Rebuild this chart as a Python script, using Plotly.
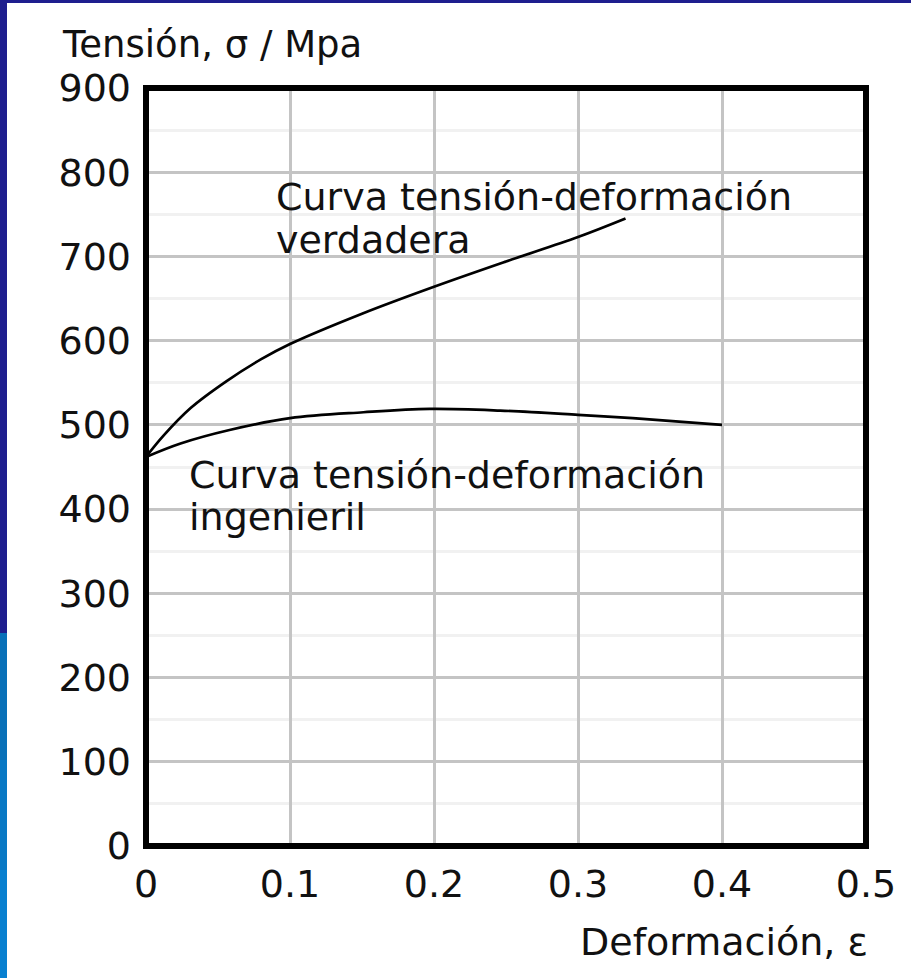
import plotly.graph_objects as go

# ---- data ----
true_strain = [0, 0.012, 0.031, 0.056, 0.08, 0.1, 0.15, 0.2, 0.25, 0.3, 0.333]
true_stress = [462, 487, 520, 552, 578, 596, 632, 664, 694, 723, 745]

eng_strain = [0, 0.024, 0.058, 0.1, 0.151, 0.197, 0.246, 0.3, 0.338, 0.4]
eng_stress = [462, 478, 494, 508, 515, 519, 517, 512, 508, 500]

x_ticks = [0, 0.1, 0.2, 0.3, 0.4, 0.5]
x_tick_text = ["0", "0.1", "0.2", "0.3", "0.4", "0.5"]
y_ticks = [0, 100, 200, 300, 400, 500, 600, 700, 800, 900]
y_tick_text = [str(v) for v in y_ticks]

y_title = "Tensión, σ / Mpa"
x_title = "Deformación, ε"
true_label = ["Curva tensión-deformación", "verdadera"]
eng_label = ["Curva tensión-deformación", "ingenieril"]

FONT = "DejaVu Sans"
TXT = "#111111"

W, H = 911, 978
ML, MR, MT, MB = 146, 45, 88, 132
PW, PH = W - ML - MR, H - MT - MB


def px(x):
    return (x - ML) / PW


def py(y):
    return (H - MB - y) / PH


fig = go.Figure()
fig.add_trace(go.Scatter(x=true_strain, y=true_stress, mode="lines",
                         line=dict(color="black", width=2.7, shape="spline", smoothing=1.0),
                         showlegend=False, hoverinfo="skip"))
fig.add_trace(go.Scatter(x=eng_strain, y=eng_stress, mode="lines",
                         line=dict(color="black", width=2.7, shape="spline", smoothing=1.0),
                         showlegend=False, hoverinfo="skip"))

shapes = [
    # frame
    dict(type="rect", xref="paper", yref="paper", x0=0, x1=1, y0=0, y1=1,
         line=dict(color="black", width=6), fillcolor="rgba(0,0,0,0)", layer="above"),
    # decorative blue strips
    dict(type="rect", xref="paper", yref="paper", x0=px(0), x1=px(7), y0=py(0), y1=py(633),
         line=dict(width=0), fillcolor="#1e1e8e", layer="above"),
    dict(type="rect", xref="paper", yref="paper", x0=px(0), x1=px(911), y0=py(0), y1=py(3),
         line=dict(width=0), fillcolor="#1e1e8e", layer="above"),
    dict(type="rect", xref="paper", yref="paper", x0=px(0), x1=px(7), y0=py(633), y1=py(760),
         line=dict(width=0), fillcolor="#0870b8", layer="above"),
    dict(type="rect", xref="paper", yref="paper", x0=px(0), x1=px(7), y0=py(760), y1=py(870),
         line=dict(width=0), fillcolor="#0878c4", layer="above"),
    dict(type="rect", xref="paper", yref="paper", x0=px(0), x1=px(7), y0=py(870), y1=py(978),
         line=dict(width=0), fillcolor="#0880d0", layer="above"),
]

annotations = [
    dict(text=y_title, xref="paper", yref="paper", x=px(60), y=py(44),
         xanchor="left", yanchor="middle", showarrow=False,
         font=dict(family=FONT, size=37, color=TXT)),
    dict(text=x_title, xref="paper", yref="paper", x=px(870), y=py(942),
         xanchor="right", yanchor="middle", showarrow=False,
         font=dict(family=FONT, size=38, color=TXT)),
    dict(text=true_label[0], x=0.089, y=770, xanchor="left", yanchor="middle",
         showarrow=False, font=dict(family=FONT, size=38, color=TXT)),
    dict(text=true_label[1], x=0.089, y=720, xanchor="left", yanchor="middle",
         showarrow=False, font=dict(family=FONT, size=38, color=TXT)),
    dict(text=eng_label[0], x=0.0285, y=441, xanchor="left", yanchor="middle",
         showarrow=False, font=dict(family=FONT, size=38, color=TXT)),
    dict(text=eng_label[1], x=0.0285, y=391, xanchor="left", yanchor="middle",
         showarrow=False, font=dict(family=FONT, size=38, color=TXT)),
]

fig.update_layout(
    width=W, height=H,
    margin=dict(l=ML, r=MR, t=MT, b=MB),
    paper_bgcolor="white", plot_bgcolor="white",
    shapes=shapes, annotations=annotations,
    showlegend=False,
    xaxis=dict(range=[0, 0.5], tickvals=x_ticks, ticktext=x_tick_text,
               showgrid=True, gridcolor="#c4c4c4", gridwidth=3,
               zeroline=False, showline=False, ticks="",
               ticklabelstandoff=12,
               tickfont=dict(family=FONT, size=38, color=TXT)),
    yaxis=dict(range=[0, 900], tickvals=y_ticks, ticktext=y_tick_text,
               showgrid=True, gridcolor="#c4c4c4", gridwidth=3,
               minor=dict(dtick=50, showgrid=True, gridcolor="#f1f1f1", gridwidth=3),
               zeroline=False, showline=False, ticks="",
               ticklabelstandoff=14,
               tickfont=dict(family=FONT, size=38, color=TXT)),
)

fig.write_html("out.html")
